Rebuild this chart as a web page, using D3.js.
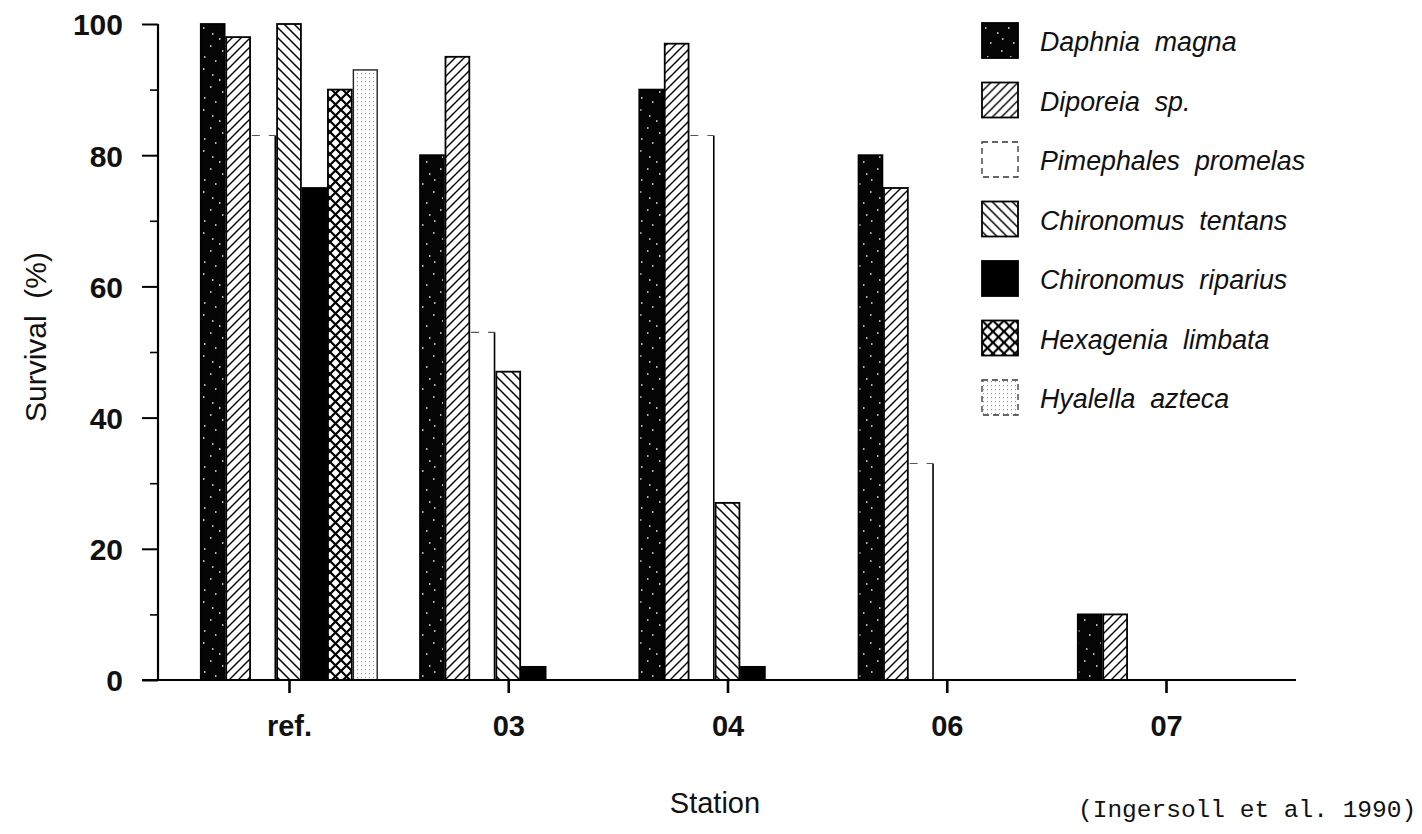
<!DOCTYPE html>
<html>
<head>
<meta charset="utf-8">
<script src="https://cdn.jsdelivr.net/npm/d3@7"></script>
<style>
body { margin: 0; background: #fff; }
svg { display: block; }
text { font-family: "Liberation Sans", Arial, Helvetica, sans-serif; fill: #111; }
</style>
</head>
<body>
<svg></svg>
<script>
var screen = {width: 1422, height: 834}

// data
var stations = ["ref.", "03", "04", "06", "07"]
var species = ["Daphnia  magna", "Diporeia  sp.", "Pimephales  promelas", "Chironomus  tentans",
               "Chironomus  riparius", "Hexagenia  limbata", "Hyalella  azteca"]
var daphnia    = [100, 80, 90, 80, 10]
var diporeia   = [98, 95, 97, 75, 10]
var pimephales = [83, 53, 83, 33, 0]
var tentans    = [100, 47, 27, 0, 0]
var riparius   = [75, 2, 2, 0, 0]
var hexagenia  = [90, 0, 0, 0, 0]
var hyalella   = [93, 0, 0, 0, 0]
var yTicks = [0, 20, 40, 60, 80, 100]
var yMinor = [10, 30, 50, 70, 90]

var seriesValues = [daphnia, diporeia, pimephales, tentans, riparius, hexagenia, hyalella]
var fills = ["url(#speckle)", "url(#fwd)", "#fff", "url(#back)", "#000", "url(#cross)", "url(#dots)"]

var svg = d3.select("svg")
    .attr("width", screen.width)
    .attr("height", screen.height)

// hatch patterns
var defs = svg.append("defs")
var p = defs.append("pattern").attr("id", "fwd").attr("patternUnits", "userSpaceOnUse")
    .attr("width", 9).attr("height", 9)
p.append("rect").attr("width", 9).attr("height", 9).attr("fill", "#fff")
p.append("path").attr("d", "M0,9 L9,0 M-2,2 L2,-2 M7,11 L11,7").attr("stroke", "#000").attr("stroke-width", 1.4)

p = defs.append("pattern").attr("id", "back").attr("patternUnits", "userSpaceOnUse")
    .attr("width", 10).attr("height", 10)
p.append("rect").attr("width", 10).attr("height", 10).attr("fill", "#fff")
p.append("path").attr("d", "M0,0 L10,10 M-2,8 L2,12 M8,-2 L12,2").attr("stroke", "#000").attr("stroke-width", 1.5)

p = defs.append("pattern").attr("id", "cross").attr("patternUnits", "userSpaceOnUse")
    .attr("width", 11).attr("height", 11)
p.append("rect").attr("width", 11).attr("height", 11).attr("fill", "#fff")
p.append("path").attr("d", "M0,0 L11,11 M0,11 L11,0").attr("stroke", "#000").attr("stroke-width", 2.2)

p = defs.append("pattern").attr("id", "dots").attr("patternUnits", "userSpaceOnUse")
    .attr("width", 4).attr("height", 4)
p.append("rect").attr("width", 4).attr("height", 4).attr("fill", "#fff")
p.append("rect").attr("x", 1).attr("y", 1).attr("width", 1).attr("height", 1.3).attr("fill", "#9a9a9a")

p = defs.append("pattern").attr("id", "speckle").attr("patternUnits", "userSpaceOnUse")
    .attr("width", 23).attr("height", 41)
p.append("rect").attr("width", 23).attr("height", 41).attr("fill", "#050505")
var specks = [[3,4],[15,9],[8,19],[19,27],[5,33],[12,38],[20,15]]
specks.forEach(function(s){
    p.append("rect").attr("x", s[0]).attr("y", s[1]).attr("width", 1.5).attr("height", 2).attr("fill", "#fff").attr("opacity", 0.7)
})

var xScale = d3.scalePoint().domain(stations).range([289, 1166])
var inner = d3.scaleBand().domain(species).range([-89, 89])
var yScale = d3.scaleLinear().domain([0, 100]).range([680, 24])

// flatten for drawing
var bars = []
stations.forEach(function(st, i){
    species.forEach(function(sp, j){
        var v = seriesValues[j][i]
        if (v > 0) bars.push({station: st, species: sp, idx: j, value: v})
    })
})

var g = svg.append("g").attr("id", "bars")
g.selectAll("rect").data(bars).enter().append("rect")
    .attr("x", function(d){ return xScale(d.station) + inner(d.species) + 0.8 })
    .attr("width", inner.bandwidth() - 1.6)
    .attr("y", function(d){ return yScale(d.value) })
    .attr("height", function(d){ return yScale(0) - yScale(d.value) })
    .attr("fill", function(d){ return fills[d.idx] })
    .attr("stroke", function(d){ return d.idx == 2 ? "none" : (d.idx == 6 ? "#222" : "#000") })
    .attr("stroke-width", function(d){ return d.idx == 6 ? 1.4 : 1.8 })

// Pimephales bars: only a faint top and a right edge show in the print
var pim = bars.filter(function(d){ return d.idx == 2 })
g.selectAll("path.pim").data(pim).enter().append("path")
    .attr("class", "pim")
    .attr("d", function(d){
        var x1 = xScale(d.station) + inner(d.species) + inner.bandwidth() - 1
        return "M" + x1 + "," + yScale(d.value) + "V" + yScale(0)
    })
    .attr("fill", "none").attr("stroke", "#000").attr("stroke-width", 1.6)
g.selectAll("path.pimtop").data(pim).enter().append("path")
    .attr("class", "pimtop")
    .attr("d", function(d){
        var x0 = xScale(d.station) + inner(d.species) + 1
        return "M" + x0 + "," + yScale(d.value) + "h" + (inner.bandwidth() - 2)
    })
    .attr("fill", "none").attr("stroke", "#555").attr("stroke-width", 1.2).attr("stroke-dasharray", "8,9")

// axes
var axis = svg.append("g").attr("class", "axis")
axis.append("line").attr("x1", 158).attr("x2", 158).attr("y1", yScale(100)).attr("y2", yScale(0))
    .attr("stroke", "#000").attr("stroke-width", 2.2)
axis.append("line").attr("x1", 142).attr("x2", 1296).attr("y1", yScale(0)).attr("y2", yScale(0))
    .attr("stroke", "#000").attr("stroke-width", 2.2)

var yAxis = d3.axisLeft(yScale).tickValues(yTicks).tickSize(16).tickPadding(19)
var yg = axis.append("g").attr("transform", "translate(158,0)").call(yAxis)
yg.select(".domain").remove()
yg.selectAll("line").attr("stroke-width", 2)
yg.selectAll("text").style("font-size", "30px").style("font-weight", "bold").attr("dy", "0.36em")

var minor = d3.axisLeft(yScale).tickValues(yMinor).tickSize(8).tickFormat("")
var mg = axis.append("g").attr("transform", "translate(158,0)").call(minor)
mg.select(".domain").remove()
mg.selectAll("line").attr("stroke-width", 1.6)

var xAxis = d3.axisBottom(xScale).tickSize(13).tickPadding(22)
var xg = axis.append("g").attr("transform", "translate(0," + yScale(0) + ")").call(xAxis)
xg.select(".domain").remove()
xg.selectAll("line").attr("stroke-width", 2.6)
xg.selectAll("text").style("font-size", "29px").style("font-weight", "bold")

// titles
svg.append("text").attr("x", 715).attr("y", 813).attr("text-anchor", "middle")
    .style("font-size", "29px").text("Station")
svg.append("text").attr("transform", "translate(46,337) rotate(-90)").attr("text-anchor", "middle")
    .style("font-size", "30px").style("white-space", "pre").text("Survival  (%)")
svg.append("text").attr("x", 1078).attr("y", 817)
    .style("font-family", "'Liberation Mono', 'Courier New', monospace").style("font-size", "24.5px")
    .style("white-space", "pre").text("(Ingersoll et al. 1990)")

// legend
var legend = svg.append("g").attr("id", "legend")
var ly = d3.scalePoint().domain(species).range([23, 380])
var items = legend.selectAll("g").data(species).enter().append("g")
    .attr("transform", function(d){ return "translate(982," + ly(d) + ")" })
items.append("rect").attr("width", 36).attr("height", 35)
    .attr("fill", function(d, i){ return fills[i] })
    .attr("stroke", function(d, i){ return (i == 2 || i == 6) ? "#333" : "#000" })
    .attr("stroke-width", function(d, i){ return (i == 2 || i == 6) ? 1.3 : 1.8 })
    .attr("stroke-dasharray", function(d, i){ return (i == 2 || i == 6) ? "6,4" : null })
items.append("text").attr("x", 58).attr("y", 28)
    .style("font-size", "26.8px").style("font-style", "italic").style("white-space", "pre")
    .text(function(d){ return d })
</script>
</body>
</html>
